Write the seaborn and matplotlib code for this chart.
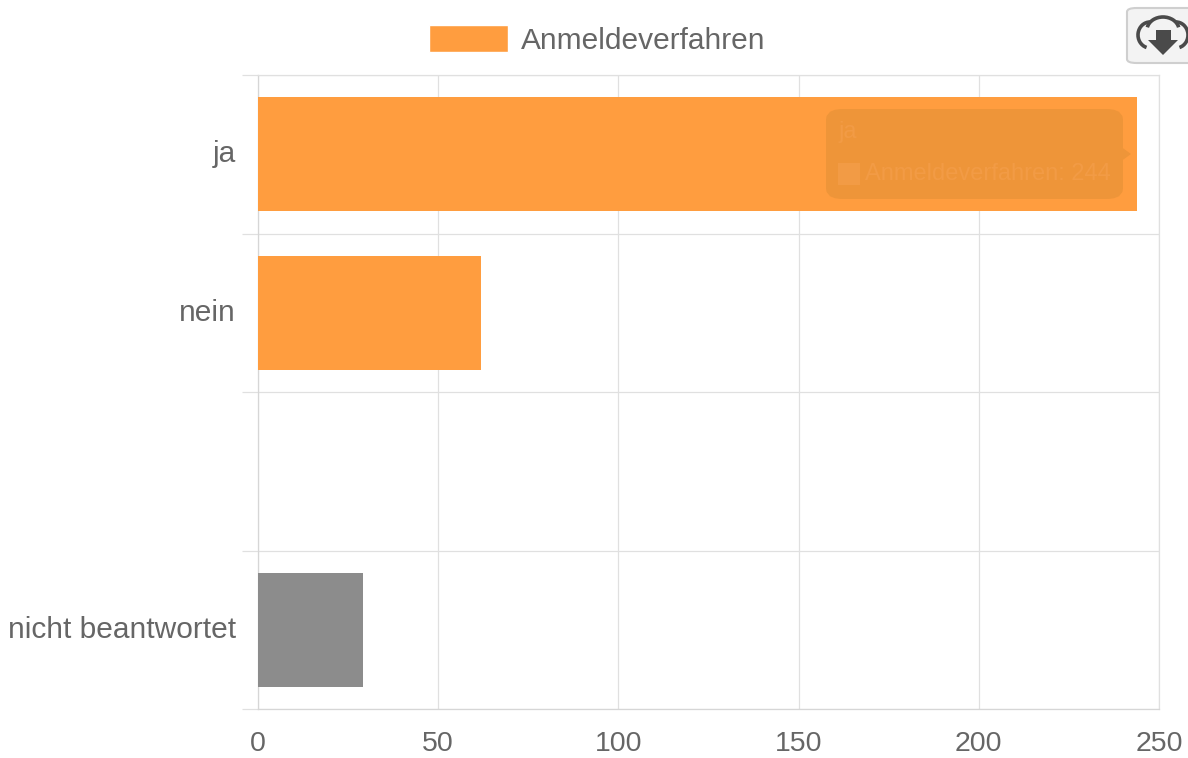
import matplotlib
matplotlib.use("Agg")
import matplotlib.pyplot as plt
import seaborn as sns
import pandas as pd
from matplotlib.patches import FancyBboxPatch, Patch, Polygon, Rectangle, Arc
from matplotlib.ticker import FixedLocator
from matplotlib.transforms import ScaledTranslation

categories = ["ja", "nein", " ", "nicht beantwortet"]
values = [244, 62, 0, 29]
bar_colors = ["#FF9D3F", "#FF9D3F", "#FF9D3F", "#8C8C8C"]
x_ticks = [0, 50, 100, 150, 200, 250]
series_name = "Anmeldeverfahren"

W, H = 1188, 758
sns.set_theme(style="white")
plt.rcParams["font.family"] = ["Liberation Sans", "DejaVu Sans"]
TXT = "#666666"
GRID = "#E0E0E0"

fig = plt.figure(figsize=(W / 100, H / 100), dpi=100, facecolor="white")
ax = fig.add_axes([258 / W, 1 - 709 / H, (1159 - 258) / W, (709 - 75) / H])

df = pd.DataFrame({"cat": categories, "value": values})
sns.barplot(data=df, y="cat", x="value", hue="cat", palette=bar_colors,
            order=categories, hue_order=categories, legend=False,
            width=0.72, saturation=1, linewidth=0, edgecolor="none", ax=ax, zorder=3)

ax.set_xlim(0, 250)
ax.set_ylim(3.5, -0.5)
ax.set_xlabel("")
ax.set_ylabel("")
ax.set_xticks(x_ticks)
ax.set_yticks(range(len(categories)))
ax.set_yticklabels(categories)
ax.yaxis.set_minor_locator(FixedLocator([i - 0.5 for i in range(len(categories) + 1)]))
ax.tick_params(axis="x", which="major", length=10, width=0.9, color=GRID,
               labelsize=20.5, labelcolor=TXT, pad=5.5)
ax.tick_params(axis="y", which="major", length=0, labelsize=21.5, labelcolor=TXT, pad=16)
ax.tick_params(axis="y", which="minor", length=11.5, width=0.9, color=GRID, left=True)
ax.grid(True, axis="x", which="major", color=GRID, lw=0.9, zorder=1)
ax.grid(True, axis="y", which="minor", color=GRID, lw=0.9, zorder=1)
ax.set_axisbelow(True)
for s in ax.spines.values():
    s.set_color(GRID)
    s.set_linewidth(0.9)
ax.spines["bottom"].set_color("#D6D6D6")
ax.spines["left"].set_color("#D6D6D6")

lift = ScaledTranslation(0, 2.2 / 72, fig.dpi_scale_trans)
for lab in ax.get_yticklabels():
    lab.set_transform(lab.get_transform() + lift)


def fx(px):
    return px / W


def fy(py):
    return 1 - py / H


# Legend
fig.legend(handles=[Patch(facecolor="#FF9D3F", label=series_name)],
           loc="center left", bbox_to_anchor=(fx(428.5), fy(40)), frameon=False,
           fontsize=21.5, labelcolor=TXT, handlelength=2.66, handleheight=1.0,
           handletextpad=0.45, borderpad=0, borderaxespad=0)

# Tooltip left fading over the top bar
tip = "#EE9539"
tip_txt = "#F29B45"
fig.add_artist(FancyBboxPatch((fx(833), fy(192)), fx(283), 76 / H,
                              boxstyle="round,pad=0,rounding_size=0.008",
                              transform=fig.transFigure, fc=tip, ec=tip, lw=10,
                              mutation_aspect=H / W, zorder=5))
fig.add_artist(Polygon([(fx(1120), fy(146)), (fx(1131), fy(154)), (fx(1120), fy(162))],
                       closed=True, transform=fig.transFigure, fc=tip, ec="none", zorder=5))
fig.text(fx(838), fy(132), categories[0], fontsize=17, color=tip_txt, va="center", zorder=6)
fig.add_artist(Rectangle((fx(838), fy(185)), 22 / W, 22 / H, transform=fig.transFigure,
                         fc=tip_txt, ec="none", zorder=6))
fig.text(fx(865), fy(174), f"{series_name}: {values[0]}", fontsize=17, color=tip_txt,
         va="center", zorder=6)

# Download button, cut by the right edge
fig.add_artist(FancyBboxPatch((fx(1127), fy(63)), fx(90), 55 / H,
                              boxstyle="round,pad=0,rounding_size=0.008",
                              transform=fig.transFigure, fc="#F3F3F3", ec="#CFCFCF", lw=1.5,
                              mutation_aspect=H / W, zorder=5))
ic = "#4A4A4A"
for cx, cy, w, h, a, b in [(1150, 35, 24, 26, 90, 260), (1163, 30, 32, 26, 15, 165),
                           (1176, 35, 24, 26, 280, 450)]:
    fig.add_artist(Arc((fx(cx), fy(cy)), w / W, h / H, theta1=a, theta2=b,
                       transform=fig.transFigure, color=ic, lw=2.6, zorder=6))
fig.add_artist(Polygon([(fx(x), fy(y)) for x, y in
                        [(1156, 30), (1171, 30), (1171, 40), (1178, 40), (1163, 55),
                         (1148, 40), (1156, 40)]],
                       closed=True, transform=fig.transFigure, fc=ic, ec="none", zorder=7))

fig.savefig("out.png", dpi=100, facecolor="white")
